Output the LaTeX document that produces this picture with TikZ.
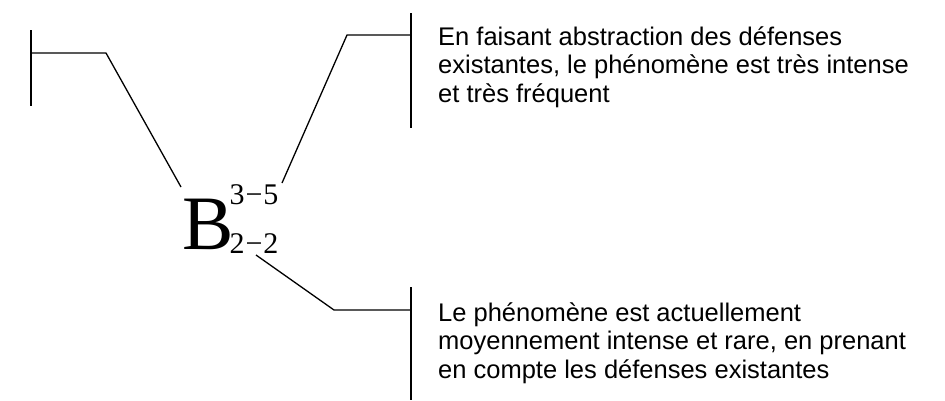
\documentclass[tikz,border=0pt]{standalone}
\usepackage{fontspec}
\setmainfont{Liberation Sans}
\newfontfamily\serifB{Liberation Serif}
\newcommand{\idxsize}{\fontsize{30}{30}\selectfont}
\begin{document}
\begin{tikzpicture}[x=1pt,y=-1pt,
  lead/.style={line width=1.3pt,black},
  note/.style={anchor=base west,inner sep=0pt,align=left,
    font=\fontsize{25.5}{28.5}\selectfont},
  code/.style={anchor=base west,inner sep=0pt,font=\serifB\fontsize{77}{77}\selectfont}]
\useasboundingbox (0,0) rectangle (945,400);

% code letter with its upper and lower indices
\node[code] (B) at (182,249)
  {B\kern-4pt\makebox[0pt][l]{\idxsize\raisebox{45pt}{3\kern1pt−\kern1pt5}}%
   {\idxsize\raisebox{-4pt}{2\kern1pt−\kern1pt2}}};

% left bracket
\coordinate (lt) at (31,30);
\coordinate (lb) at (31,106);
\coordinate (lm) at (31,53);
\coordinate (lk) at (106,53);
\coordinate (le) at (181,187);
\draw[lead] (lt) -- (lb);
\draw[lead] (lm) -- (lk) -- (le);

% upper right bracket
\coordinate (ut) at (411,13);
\coordinate (ub) at (411,128);
\coordinate (um) at (411,35);
\coordinate (uk) at (347,35);
\coordinate (ue) at (282,183);
\draw[lead] (ut) -- (ub);
\draw[lead] (um) -- (uk) -- (ue);

% lower right bracket
\coordinate (dt) at (411,287);
\coordinate (db) at (411,400);
\coordinate (dm) at (411,310);
\coordinate (dk) at (334,310);
\coordinate (de) at (256,255);
\draw[lead] (dt) -- (db);
\draw[lead] (dm) -- (dk) -- (de);

% explanations (anchored on the baseline of their last line)
\node[note] (t1) at (438,102) {En faisant abstraction des défenses\\existantes, le phénomène est très intense\\et très fréquent};
\node[note] (t2) at (438,378) {Le phénomène est actuellement\\moyennement intense et rare, en prenant\\en compte les défenses existantes};
\end{tikzpicture}
\end{document}
